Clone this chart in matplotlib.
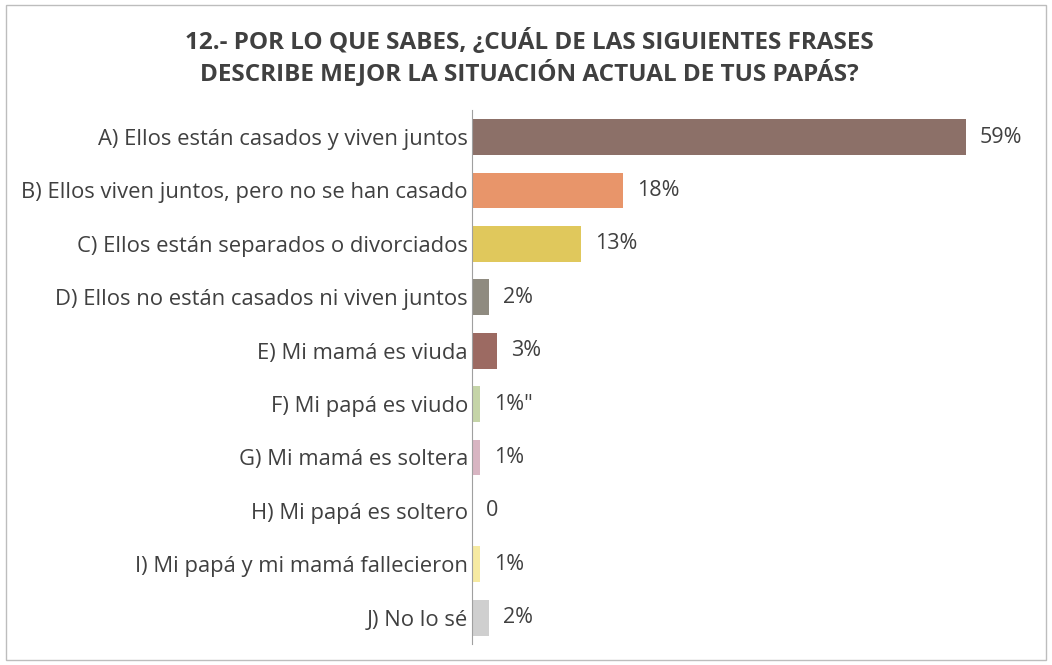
import matplotlib
matplotlib.use('Agg')
import matplotlib.pyplot as plt
from matplotlib.patches import Rectangle

# datos de la encuesta (pregunta 12)
categories = [
    'A) Ellos están casados y viven juntos',
    'B) Ellos viven juntos, pero no se han casado',
    'C) Ellos están separados o divorciados',
    'D) Ellos no están casados ni viven juntos',
    'E) Mi mamá es viuda',
    'F) Mi papá es viudo',
    'G) Mi mamá es soltera',
    'H) Mi papá es soltero',
    'I) Mi papá y mi mamá fallecieron',
    'J) No lo sé',
]
values = [59, 18, 13, 2, 3, 1, 1, 0, 1, 2]
value_labels = ['59%', '18%', '13%', '2%', '3%', '1%"', '1%', '0', '1%', '2%']
colors = ['#8c7068', '#e8956a', '#e0c85c', '#8f8b80', '#9c6a62',
          '#c5d4a8', '#d8b5c2', '#ffffff', '#f6eaa2', '#cfcfcf']

plt.rcParams['font.family'] = ['Open Sans', 'DejaVu Sans']
TXT = '#404040'

fig = plt.figure(figsize=(10.52, 6.65), dpi=100)
fig.patches.append(Rectangle((0.006, 0.008), 0.988, 0.984, transform=fig.transFigure,
                             fill=False, edgecolor='#bdbdbd', linewidth=1))
ax = fig.add_axes([0.4487, 0.031, 0.5413, 0.803])

y = list(range(len(categories)))
ax.barh(y, values, height=0.67, color=colors)
for yi, v, lab in zip(y, values, value_labels):
    ax.annotate(lab, (v, yi), xytext=(10, 0), textcoords='offset points',
                va='center', ha='left', fontsize=15.5, color=TXT)

ax.set_xlim(0, 68)
ax.set_ylim(len(categories) - 0.5, -0.5)
ax.set_yticks(y)
ax.set_yticklabels(categories, fontsize=15.8, color=TXT)
ax.tick_params(axis='y', length=0, pad=3)
ax.set_xticks([])
for s in ['top', 'right', 'bottom']:
    ax.spines[s].set_visible(False)
ax.spines['left'].set_color('#a0a0a0')

fig.text(0.503, 0.914, '12.- POR LO QUE SABES, ¿CUÁL DE LAS SIGUIENTES FRASES\n'
         'DESCRIBE MEJOR LA SITUACIÓN ACTUAL DE TUS PAPÁS?',
         ha='center', va='center', fontsize=17.5, fontweight='bold', color=TXT,
         linespacing=1.2)

fig.savefig('out.png', dpi=100)
